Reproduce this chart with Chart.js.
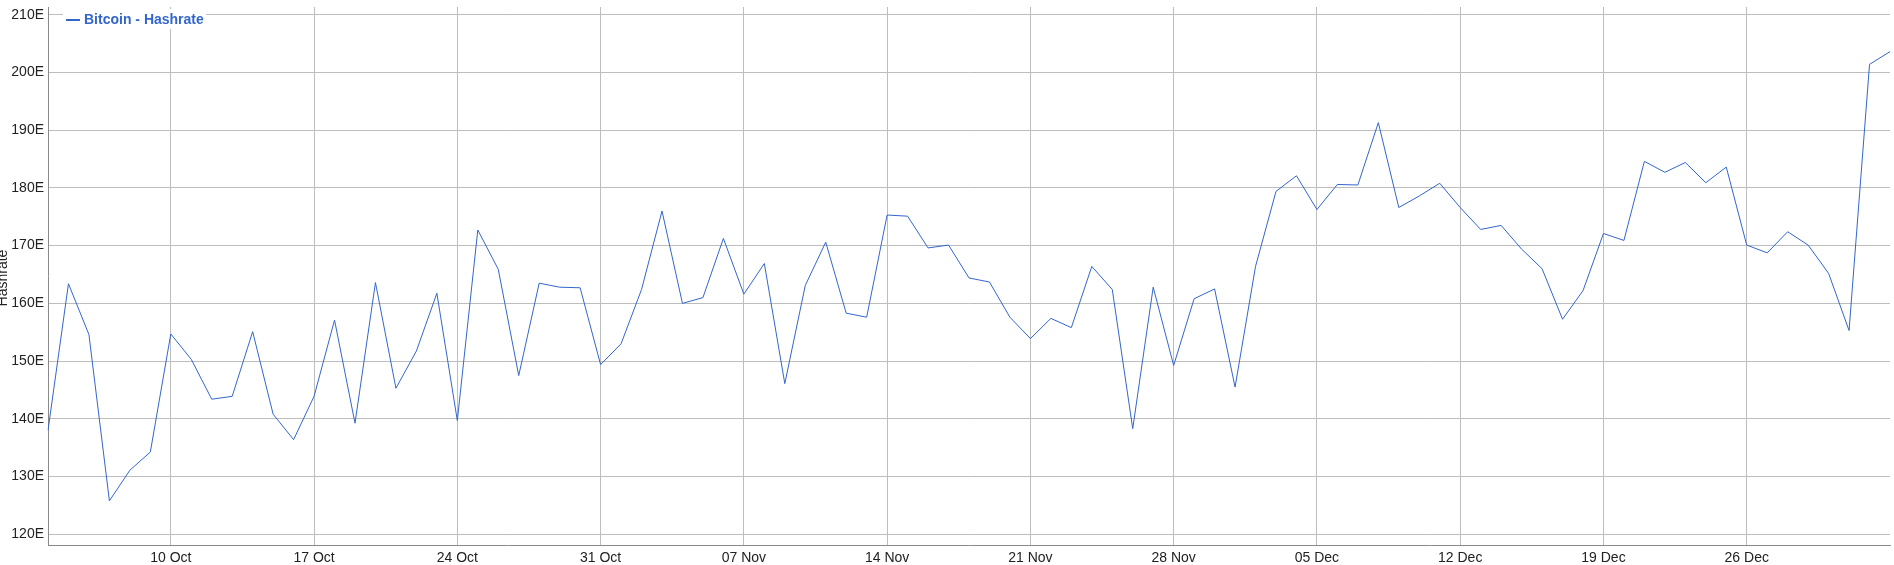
<!DOCTYPE html>
<html>
<head>
<meta charset="utf-8">
<script src="https://cdn.jsdelivr.net/npm/chart.js@4/dist/chart.umd.min.js"></script>
<style>
  html, body { margin: 0; padding: 0; background: #fff; }
  canvas { display: block; }
</style>
</head>
<body>
<canvas id="hashChart" width="1894" height="565"></canvas>
<script>
// daily hashrate, 04 Oct 2021 .. 02 Jan 2022 (EH/s)
const startDay = new Date(2021, 9, 4);
const hashrate = [
  138.0, 163.4, 154.6, 125.8, 131.1, 134.25, 154.7, 150.3, 143.4, 143.9,
  155.1, 140.8, 136.4, 143.9, 157.1, 139.25, 163.6, 145.3, 151.75, 161.75,
  139.7, 172.7, 165.9, 147.5, 163.5, 162.8, 162.7, 149.4, 153.0, 162.4,
  176.0, 160.0, 161.0, 171.25, 161.6, 166.9, 146.1, 163.1, 170.6, 158.3,
  157.6, 175.3, 175.1, 169.6, 170.1, 164.4, 163.7, 157.6, 153.9, 157.4,
  155.8, 166.4, 162.4, 138.3, 162.8, 149.25, 160.8, 162.5, 145.5, 166.4,
  179.4, 182.1, 176.25, 180.6, 180.5, 191.3, 176.6, 178.6, 180.8, 176.6,
  172.8, 173.5, 169.4, 166.0, 157.25, 162.2, 172.1, 170.9, 184.6, 182.7,
  184.4, 180.9, 183.6, 170.1, 168.75, 172.4, 170.1, 165.2, 155.3, 201.4, 203.6
];
const xTickLabels = ['10 Oct', '17 Oct', '24 Oct', '31 Oct', '07 Nov', '14 Nov',
  '21 Nov', '28 Nov', '05 Dec', '12 Dec', '19 Dec', '26 Dec'];
const yTicks = [120, 130, 140, 150, 160, 170, 180, 190, 200, 210];

const months = ['Jan', 'Feb', 'Mar', 'Apr', 'May', 'Jun', 'Jul', 'Aug', 'Sep', 'Oct', 'Nov', 'Dec'];
let days = [];
for (let i = 0; i < hashrate.length; i++) {
  let d = new Date(startDay.getFullYear(), startDay.getMonth(), startDay.getDate() + i);
  days.push(String(d.getDate()).padStart(2, '0') + ' ' + months[d.getMonth()]);
}

const lineColor = '#3366cc';
const gridColor = '#bdbdbd';
const axisColor = '#8a8a8a';
const font = "Arial, 'Liberation Sans', sans-serif";

// legend drawn inside the plot, top left, and the clipped y axis title
const extras = {
  id: 'extras',
  afterDraw(chart) {
    const ctx = chart.ctx;
    const area = chart.chartArea;
    const ds = chart.data.datasets[0];
    ctx.save();
    ctx.fillStyle = '#fff';
    ctx.fillRect(area.left + 15, area.top + 2, 143, 20);
    ctx.strokeStyle = ds.borderColor;
    ctx.lineWidth = 2;
    ctx.beginPath();
    ctx.moveTo(area.left + 18, area.top + 13);
    ctx.lineTo(area.left + 32, area.top + 13);
    ctx.stroke();
    ctx.fillStyle = ds.borderColor;
    ctx.font = 'bold 14px ' + font;
    ctx.textBaseline = 'alphabetic';
    ctx.textAlign = 'left';
    ctx.fillText(ds.label, area.left + 36, area.top + 17);

    ctx.translate(7, (area.top + area.bottom) / 2 + 2);
    ctx.rotate(-Math.PI / 2);
    ctx.fillStyle = '#222';
    ctx.font = '14px ' + font;
    ctx.textAlign = 'center';
    ctx.fillText('Hashrate', 0, 0);
    ctx.restore();
  }
};

const ctx = document.getElementById('hashChart').getContext('2d');
const chart = new Chart(ctx, {
  type: 'line',
  data: {
    labels: days,
    datasets: [{
      label: 'Bitcoin - Hashrate',
      data: hashrate,
      borderColor: lineColor,
      backgroundColor: lineColor,
      borderWidth: 1,
      pointRadius: 0,
      tension: 0,
      fill: false
    }]
  },
  options: {
    responsive: false,
    animation: false,
    devicePixelRatio: 1,
    layout: { padding: { top: 7, right: 4, left: 0, bottom: 0 } },
    plugins: {
      legend: { display: false },
      tooltip: { enabled: false }
    },
    scales: {
      x: {
        offset: false,
        afterFit: (scale) => {
          scale.height = 20;
          scale.paddingLeft = 0;
          scale.paddingRight = 0;
        },
        afterBuildTicks: (scale) => {
          scale.ticks = scale.ticks.filter(t => xTickLabels.includes(days[t.value]));
        },
        grid: { color: gridColor, drawTicks: false },
        border: { color: axisColor, width: 1 },
        ticks: {
          autoSkip: false,
          maxRotation: 0,
          padding: 5,
          color: '#222',
          font: { family: font, size: 14 }
        }
      },
      y: {
        min: 118.15,
        max: 211.33,
        afterFit: (scale) => {
          scale.width = 48;
          scale.paddingTop = 0;
          scale.paddingBottom = 0;
        },
        afterBuildTicks: (scale) => {
          scale.ticks = yTicks.map(v => ({ value: v }));
        },
        grid: { color: gridColor, drawTicks: false },
        border: { color: axisColor, width: 1 },
        ticks: {
          padding: 4,
          color: '#222',
          font: { family: font, size: 14 },
          callback: (v) => v + 'E'
        }
      }
    }
  },
  plugins: [extras]
});
</script>
</body>
</html>
